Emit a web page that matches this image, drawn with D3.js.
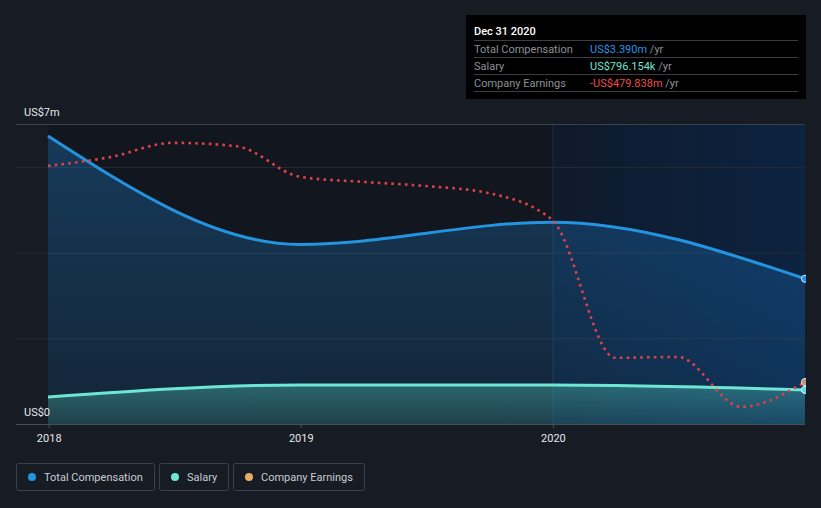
<!DOCTYPE html>
<html>
<head>
<meta charset="utf-8">
<script src="https://cdn.jsdelivr.net/npm/d3@7.9.0/dist/d3.min.js"></script>
<style>
  body { margin: 0; background: #161b24; font-family: Roboto, "Open Sans", sans-serif; }
  svg { display: block; }
</style>
</head>
<body>
<svg id="chart" width="821" height="508"></svg>
<script>
// annual points (Dec 31)
const compDates = ['2017-12-31', '2018-12-31', '2019-12-31', '2020-12-31'];
const totalComp = [6.72, 4.19, 4.71, 3.39];       // US$m
const salary = [0.63, 0.91, 0.91, 0.796];          // US$m

// quarterly earnings (US$m)
const earnDates = ['2017-12-31', '2018-03-31', '2018-06-30', '2018-09-30', '2018-12-31',
  '2019-03-31', '2019-06-30', '2019-09-30', '2019-12-31',
  '2020-03-31', '2020-06-30', '2020-09-30', '2020-12-31'];
const earnings = [36, 57, 91, 83, 10, -2, -12, -29, -93, -422, -420, -539, -479.838];

const yTicks = [0, 2, 4, 6, 7];
const xTicks = ['2018', '2019', '2020'];

const legendItems = [
  { label: 'Total Compensation', color: '#2394e0' },
  { label: 'Salary', color: '#6ee6d4' },
  { label: 'Company Earnings', color: '#e7ac62' },
];

const tipRows = [
  { label: 'Total Compensation', value: 'US$3.390m', color: '#2595e8' },
  { label: 'Salary', value: 'US$796.154k', color: '#6fe3cf' },
  { label: 'Company Earnings', value: '-US$479.838m', color: '#ef4b4b' },
];

const parse = d3.timeParse('%Y-%m-%d');
const svg = d3.select('#chart');
const defs = svg.append('defs');

const x = d3.scaleTime()
  .domain([parse('2017-12-31'), parse('2020-12-31')])
  .range([48, 805]);
const y = d3.scaleLinear().domain([0, 7]).range([424, 124]);
// earnings drawn on their own scale
const yEarn = d3.scaleLinear().domain([-580, 136]).range([424, 124]);

// plot background
svg.append('rect').attr('x', 48).attr('y', 124).attr('width', 805 - 48).attr('height', 300)
  .attr('fill', '#12161e');

let hl = defs.append('linearGradient').attr('id', 'hl').attr('x1', 0).attr('x2', 1).attr('y1', 0).attr('y2', 0);
hl.append('stop').attr('offset', 0).attr('stop-color', '#0f1a2b');
hl.append('stop').attr('offset', 1).attr('stop-color', '#0c2341');
let x2020 = x(parse('2020-01-01'));
svg.append('rect').attr('x', x2020).attr('y', 124).attr('width', 805 - x2020).attr('height', 300)
  .attr('fill', 'url(#hl)');
svg.append('line').attr('x1', x2020).attr('x2', x2020).attr('y1', 124).attr('y2', 424)
  .attr('stroke', '#1c2c44').attr('stroke-width', 1);

// gridlines
yTicks.forEach((t) => {
  svg.append('line')
    .attr('x1', 16).attr('x2', 805)
    .attr('y1', y(t) + 0.5).attr('y2', y(t) + 0.5)
    .attr('stroke', t === 7 ? '#3b404a' : (t === 0 ? '#4a4f59' : '#262c37'))
    .attr('stroke-width', 1);
});

// areas
let gComp = defs.append('linearGradient').attr('id', 'gComp').attr('x1', 0).attr('x2', 0).attr('y1', 0).attr('y2', 1);
gComp.append('stop').attr('offset', 0).attr('stop-color', '#2196f3').attr('stop-opacity', 0.28);
gComp.append('stop').attr('offset', 1).attr('stop-color', '#2196f3').attr('stop-opacity', 0.12);
let gSal = defs.append('linearGradient').attr('id', 'gSal').attr('x1', 0).attr('x2', 0).attr('y1', 0).attr('y2', 1);
gSal.append('stop').attr('offset', 0).attr('stop-color', '#5ee6d0').attr('stop-opacity', 0.32);
gSal.append('stop').attr('offset', 1).attr('stop-color', '#5ee6d0').attr('stop-opacity', 0.14);

let compData = compDates.map((d, i) => ({ date: parse(d), value: totalComp[i] }));
let salData = compDates.map((d, i) => ({ date: parse(d), value: salary[i] }));
let earnData = earnDates.map((d, i) => ({ date: parse(d), value: earnings[i] }));

let area = d3.area().x((d) => x(d.date)).y0(y(0)).y1((d) => y(d.value)).curve(d3.curveMonotoneX);
let line = d3.line().x((d) => x(d.date)).y((d) => y(d.value)).curve(d3.curveMonotoneX);
let earnLine = d3.line().x((d) => x(d.date)).y((d) => yEarn(d.value)).curve(d3.curveMonotoneX);

svg.append('path').attr('d', area(compData)).attr('fill', 'url(#gComp)');
svg.append('path').attr('d', area(salData)).attr('fill', 'url(#gSal)');

svg.append('path').attr('d', line(compData)).attr('fill', 'none')
  .attr('stroke', '#2394e0').attr('stroke-width', 3);
svg.append('path').attr('d', line(salData)).attr('fill', 'none')
  .attr('stroke', '#6ee6d4').attr('stroke-width', 3);
svg.append('path').attr('d', earnLine(earnData)).attr('fill', 'none')
  .attr('stroke', '#e0404a').attr('stroke-width', 2.6)
  .attr('stroke-dasharray', '2.6,4.2');

// end markers
let last = compData.length - 1;
svg.append('circle').attr('cx', x(compData[last].date)).attr('cy', y(compData[last].value)).attr('r', 3.6)
  .attr('fill', '#2394e0').attr('stroke', '#cfe6f7').attr('stroke-width', 1);
svg.append('circle').attr('cx', x(earnData[earnData.length - 1].date)).attr('cy', yEarn(earnData[earnData.length - 1].value)).attr('r', 3.6)
  .attr('fill', '#b89a7a').attr('stroke', '#e8ddd2').attr('stroke-width', 1);
svg.append('circle').attr('cx', x(salData[last].date)).attr('cy', y(salData[last].value)).attr('r', 3.6)
  .attr('fill', '#5fd6e0').attr('stroke', '#d8f6f6').attr('stroke-width', 1);

// cover right edge beyond plot
svg.append('rect').attr('x', 806).attr('y', 110).attr('width', 15).attr('height', 330).attr('fill', '#161b24');

// y labels
svg.append('text').attr('x', 24).attr('y', 116).text('US$7m')
  .attr('fill', '#e6e8eb').attr('font-size', 11);
svg.append('text').attr('x', 24).attr('y', 416).text('US$0')
  .attr('fill', '#e6e8eb').attr('font-size', 11);

// x axis
let xAxis = d3.axisBottom(x)
  .tickValues(xTicks.map((t) => parse(t + '-01-01')))
  .tickFormat(d3.timeFormat('%Y'))
  .tickSize(4);
let gx = svg.append('g').attr('transform', 'translate(0,424)').call(xAxis);
gx.select('.domain').remove();
gx.selectAll('line').attr('stroke', '#4a4f59');
gx.selectAll('text').attr('fill', '#e6e8eb').attr('font-size', 11)
  .attr('font-family', 'Roboto, sans-serif').attr('dy', '1.0em');

// tooltip
let tip = svg.append('g');
tip.append('rect').attr('x', 466).attr('y', 15).attr('width', 340).attr('height', 84).attr('fill', '#000');
tip.append('text').attr('x', 474).attr('y', 35).text('Dec 31 2020')
  .attr('fill', '#ffffff').attr('font-size', 11).attr('font-weight', 500);
tipRows.forEach((r, i) => {
  let top = 40 + i * 17;
  tip.append('line').attr('x1', 474).attr('x2', 798).attr('y1', top + 0.5).attr('y2', top + 0.5)
    .attr('stroke', '#3a3d42');
  tip.append('text').attr('x', 474).attr('y', top + 12.5).text(r.label)
    .attr('fill', '#8c9096').attr('font-size', 11);
  let t = tip.append('text').attr('x', 590).attr('y', top + 12.5).attr('font-size', 11);
  t.append('tspan').text(r.value).attr('fill', r.color);
  t.append('tspan').text(' /yr').attr('fill', '#8c9096');
});
tip.append('line').attr('x1', 474).attr('x2', 798).attr('y1', 91.5).attr('y2', 91.5).attr('stroke', '#3a3d42');

// legend
let lx = 16;
legendItems.forEach((item) => {
  let g = svg.append('g');
  let txt = g.append('text').attr('x', lx + 28).attr('y', 481).text(item.label)
    .attr('fill', '#c9ccd1').attr('font-size', 11);
  let w = Math.round(txt.node().getComputedTextLength() + 39);
  g.insert('rect', 'text').attr('x', lx + 0.5).attr('y', 463.5).attr('width', w).attr('height', 27)
    .attr('rx', 2).attr('fill', 'none').attr('stroke', '#3a3f49');
  g.append('circle').attr('cx', lx + 16).attr('cy', 477).attr('r', 4).attr('fill', item.color);
  lx += w + 5;
});
</script>
</body>
</html>
